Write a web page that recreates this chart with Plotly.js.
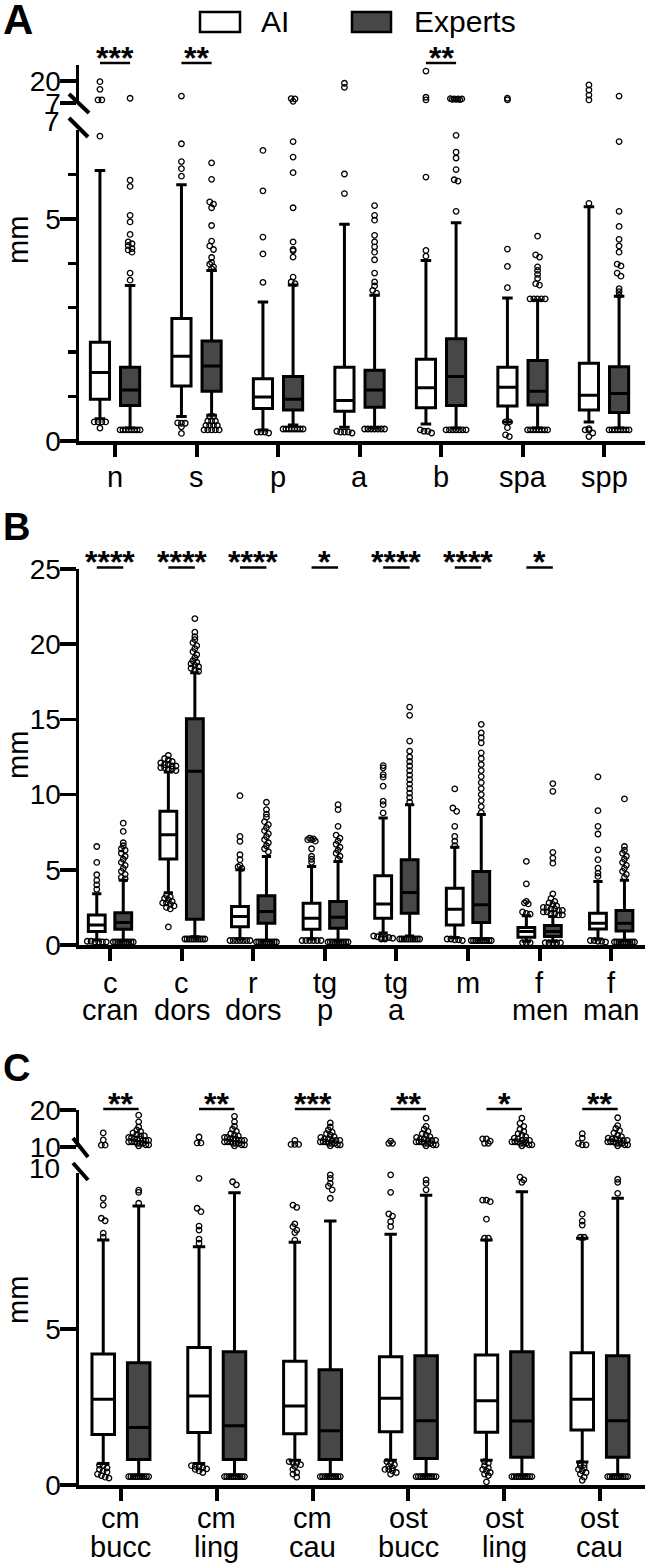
<!DOCTYPE html>
<html><head><meta charset="utf-8">
<script src="https://cdn.plot.ly/plotly-3.0.1.min.js"></script>
<style>html,body{margin:0;padding:0;background:#fff}#chart{width:645px;height:1563px}</style>
</head><body><div id="chart"></div>
<script>
// ================= DATA =================
// box rows: [lowerfence, q1, median, q3, upperfence]
const catsA = ["n","s","p","a","b","spa","spp"];
const boxA_AI = [[0.50,0.94,1.54,2.22,6.09],[0.55,1.24,1.91,2.76,5.77],[0.25,0.73,0.99,1.40,3.13],[0.31,0.67,0.91,1.66,4.88],[0.38,0.75,1.20,1.84,4.06],[0.43,0.79,1.21,1.66,3.22],[0.43,0.70,1.03,1.75,5.27]];
const boxA_EX = [[0.29,0.80,1.15,1.66,3.50],[0.58,1.12,1.69,2.25,3.84],[0.36,0.70,0.94,1.45,3.51],[0.29,0.76,1.15,1.59,3.28],[0.29,0.80,1.45,2.30,4.91],[0.29,0.81,1.12,1.81,3.17],[0.29,0.64,1.07,1.67,3.26]];
const A_AI_out = [
 [6.86,0.43,0.43,0.43,0.43,0.29],
 [6.69,6.29,6.13,5.96,0.41,0.40,0.40,0.32,0.17],
 [6.54,5.63,4.59,4.21,3.57,0.20,0.20,0.20,0.18],
 [6.01,5.57,0.22,0.20,0.20,0.20,0.18],
 [5.94,4.29,4.16,0.25,0.22,0.22,0.18],
 [4.32,3.93,3.45,0.43,0.43,0.30,0.14,0.10],
 [5.35,0.28,0.25,0.25,0.18,0.10]];
const A_AI_up = [[19.6,15.1,8.8,8.8],[11.1],[],[18.7,16.3],[25.9,10.4,8.8],[9.8,8.8],[17.7,14.7,11.7,8.8]];
const A_EX_out = [
 [5.87,5.73,5.08,4.93,4.65,4.48,4.44,4.40,4.33,4.30,4.25,3.78,3.62,0.25,0.25,0.25,0.25,0.25,0.25,0.25,0.25],
 [6.26,5.89,5.38,5.33,5.25,4.85,4.50,4.39,4.31,4.13,4.02,3.98,3.92,3.88,0.55,0.55,0.45,0.45,0.45,0.35,0.35,0.35,0.35,0.25,0.25,0.25,0.25,0.25],
 [6.74,6.39,6.04,5.25,4.48,4.31,4.28,4.14,3.69,3.58,3.54,0.27,0.27,0.27,0.27,0.27,0.27,0.27,0.27],
 [5.30,5.08,4.97,4.63,4.48,4.37,4.25,4.08,3.78,3.58,3.49,3.39,3.33,0.27,0.27,0.27,0.27,0.27,0.27,0.27],
 [6.88,6.50,6.37,6.11,5.88,5.85,5.17,0.25,0.25,0.25,0.25,0.25,0.25,0.25],
 [4.61,4.19,4.14,3.92,3.84,3.75,3.66,3.54,3.51,3.20,3.20,3.20,3.20,3.20,0.25,0.25,0.25,0.25,0.25,0.25,0.25,0.25],
 [6.74,5.17,4.83,4.54,4.39,4.25,3.98,3.94,3.78,3.71,3.43,3.36,3.28,0.25,0.25,0.25,0.25,0.25,0.25,0.25,0.25]];
const A_EX_up = [[9.8],[],[9.6,9.4,8.0],[],[9.6,9.5,9.4,9.4,9.2,9.2,9.0],[],[11.1]];
const sigA = ["***","**","","","**","",""];

const catsB = ["c\ncran","c\ndors","r\ndors","tg\np","tg\na","m","f\nmen","f\nman"];
const boxB_AI = [[0.33,0.89,1.33,2.00,3.40],[3.47,5.71,7.33,8.89,11.50],[0.40,1.22,1.89,2.56,5.00],[0.40,1.04,1.78,2.78,5.22],[0.80,1.78,2.73,4.60,8.44],[0.50,1.33,2.38,3.78,6.50],[0.25,0.51,0.89,1.16,1.95],[0.40,1.07,1.44,2.11,4.22]];
const boxB_EX = [[0.30,1.04,1.49,2.15,4.30],[0.55,1.71,11.55,15.04,18.10],[0.30,1.44,2.22,3.27,5.89],[0.30,1.11,1.84,2.89,5.56],[0.60,2.11,3.49,5.67,9.33],[0.40,1.49,2.67,4.89,8.67],[0.25,0.56,0.89,1.29,1.90],[0.30,0.93,1.44,2.29,4.30]];
const B_AI_out = [
 [6.55,5.49,4.67,4.30,4.00,3.70,0.25,0.25,0.20,0.20,0.20,0.20],
 [12.6,12.4,12.3,12.2,12.1,12.0,12.0,11.9,11.9,11.8,11.8,11.7,11.7,11.6,3.30,3.20,3.10,3.00,2.90,2.80,2.80,2.70,2.60,2.50,2.40,1.20],
 [9.93,7.22,6.89,6.00,5.67,5.30,5.20,5.10,0.30,0.30,0.30,0.30,0.30,0.30,0.30],
 [7.10,7.05,7.00,7.00,6.90,6.40,5.90,5.70,5.50,0.30,0.30,0.30,0.30,0.30,0.30],
 [11.93,11.78,11.33,11.16,10.56,9.56,9.33,8.78,0.60,0.55,0.50,0.50,0.50,0.45,0.40,0.40],
 [10.38,9.11,8.89,7.89,7.22,6.90,6.60,0.40,0.40,0.35,0.35,0.30],
 [5.56,4.07,2.90,2.80,2.73,2.20,2.10,2.05,0.15,0.15,0.15],
 [11.18,8.93,7.89,7.38,6.33,5.67,5.11,4.78,4.56,0.30,0.30,0.25,0.25,0.20]];
const B_EX_out = [
 [8.10,7.55,6.80,6.60,6.40,6.30,6.10,5.90,5.70,5.50,5.30,5.10,4.90,4.70,4.50,4.40,0.20,0.20,0.20,0.20,0.20,0.20,0.20,0.20,0.20,0.20],
 [21.7,20.8,20.5,20.3,20.1,19.9,19.7,19.5,19.3,19.1,18.9,18.8,18.7,18.6,18.5,18.4,18.3,18.2,0.40,0.40,0.40,0.40,0.40,0.40,0.40,0.40,0.40,0.40],
 [9.49,9.00,8.70,8.50,8.20,8.00,7.80,7.60,7.40,7.20,7.00,6.80,6.60,6.40,6.20,0.20,0.20,0.20,0.20,0.20,0.20,0.20,0.20,0.20,0.20],
 [9.33,9.00,7.89,7.30,7.10,6.90,6.70,6.50,6.30,6.10,5.90,5.70,0.20,0.20,0.20,0.20,0.20,0.20,0.20,0.20,0.20,0.20],
 [15.82,15.27,13.56,12.89,12.50,12.20,11.90,11.60,11.30,11.00,10.70,10.40,10.10,9.80,9.50,0.40,0.40,0.40,0.40,0.40,0.40,0.40,0.40,0.40,0.40],
 [14.67,14.10,13.78,13.44,12.78,12.40,12.00,11.60,11.20,10.80,10.40,10.00,9.60,9.20,8.80,0.30,0.30,0.30,0.30,0.30,0.30,0.30,0.30,0.30,0.30],
 [10.73,10.22,6.16,5.78,5.44,3.40,3.10,2.90,2.80,2.70,2.60,2.50,2.50,2.40,2.40,2.30,2.30,2.20,2.20,2.10,2.10,2.00,2.00,0.15,0.15,0.15,0.15,0.15],
 [9.71,6.55,6.30,6.10,5.90,5.70,5.50,5.30,5.10,4.90,4.70,4.50,0.20,0.20,0.20,0.20,0.20,0.20,0.20,0.20,0.20,0.20]];
const sigB = ["****","****","****","*","****","****","*",""];

const catsC = ["cm\nbucc","cm\nling","cm\ncau","ost\nbucc","ost\nling","ost\ncau"];
const boxC_AI = [[0.69,1.62,2.75,4.20,7.85],[0.69,1.68,2.85,4.41,7.64],[0.79,1.64,2.53,3.97,7.78],[0.79,1.71,2.78,4.11,8.04],[0.79,1.69,2.70,4.17,7.85],[0.74,1.76,2.75,4.24,7.91]];
const boxC_EX = [[0.32,0.82,1.84,3.92,8.94],[0.32,0.82,1.90,4.27,9.37],[0.32,0.82,1.74,3.69,8.46],[0.32,0.85,2.06,4.14,9.29],[0.32,0.89,2.05,4.27,9.40],[0.32,0.89,2.06,4.14,9.19]];
const C_AI_out = [
 [9.19,8.97,8.55,8.47,8.07,7.94,0.64,0.62,0.55,0.50,0.45,0.42,0.35,0.30,0.25,0.22],
 [9.83,8.87,8.76,8.30,8.17,7.88,7.75,0.62,0.60,0.58,0.55,0.52,0.50,0.45,0.40],
 [8.97,8.90,8.37,8.28,8.17,8.09,7.85,0.75,0.72,0.70,0.65,0.60,0.50,0.40,0.35,0.25],
 [9.94,9.38,8.69,8.62,8.44,8.28,0.75,0.70,0.65,0.60,0.55,0.50,0.50,0.45,0.40,0.35],
 [9.13,9.13,9.08,8.52,7.91,7.91,0.75,0.70,0.62,0.55,0.50,0.45,0.40,0.35,0.30,0.10],
 [8.68,8.46,8.33,7.94,7.94,0.70,0.65,0.62,0.55,0.50,0.45,0.40,0.35,0.25,0.15]];
const C_AI_up = [[13.8,11.9,10.5,10.5],[12.7,11.1,11.1],[11.8,10.7,10.7,10.7],[11.6,11.0,11.0],[12.2,12.2,11.6,11.0,11.0],[13.6,12.4,11.0,10.6,10.6]];
const C_EX_out = [
 [9.45,9.38,9.03,0.27,0.27,0.27,0.27,0.27,0.27,0.27,0.27,0.27,0.27],
 [9.72,9.62,0.27,0.27,0.27,0.27,0.27,0.27,0.27,0.27,0.27,0.27],
 [9.94,9.83,9.67,9.58,9.46,9.19,0.27,0.27,0.27,0.27,0.27,0.27,0.27,0.27,0.27,0.27],
 [9.78,9.67,9.46,0.27,0.27,0.27,0.27,0.27,0.27,0.27,0.27,0.27,0.27],
 [9.87,9.78,9.70,0.27,0.27,0.27,0.27,0.27,0.27,0.27,0.27,0.27,0.27],
 [9.80,9.70,9.35,0.27,0.27,0.27,0.27,0.27,0.27,0.27,0.27,0.27,0.27]];
const C_EX_up = [
 [18.6,16.8,15.4,14.6,14.2,13.8,13.4,13.0,13.0,12.6,12.6,12.2,12.2,12.2,11.8,11.8,11.8,11.4,11.4,11.4,11.0,11.0,11.0,10.6,10.6,10.3],
 [18.3,16.8,15.6,14.8,14.2,13.6,13.2,13.0,12.6,12.6,12.2,12.2,12.2,11.8,11.8,11.8,11.4,11.4,11.4,11.0,11.0,11.0,10.6,10.6,10.3],
 [16.5,15.4,14.6,14.0,13.6,13.2,12.8,12.6,12.2,12.2,11.8,11.8,11.8,11.4,11.4,11.4,11.0,11.0,11.0,10.6,10.6,10.3],
 [17.8,15.6,14.8,14.2,13.6,13.2,12.8,12.6,12.2,12.2,11.8,11.8,11.8,11.4,11.4,11.4,11.0,11.0,11.0,10.6,10.6,10.3],
 [17.8,16.4,15.6,14.8,14.2,13.6,13.2,12.8,12.4,12.2,11.8,11.8,11.8,11.4,11.4,11.4,11.0,11.0,11.0,10.6,10.6,10.3],
 [17.9,15.8,15.0,14.4,13.8,13.2,12.8,12.4,12.2,12.2,11.8,11.8,11.8,11.4,11.4,11.4,11.0,11.0,11.0,10.6,10.6,10.3]];
const sigC = ["**","**","***","**","*","**"];

const seriesNames = ["AI","Experts"];

// ================= LAYOUT / STYLE =================
const W = 645, H = 1563;
const FONT = "Liberation Sans, Arial, Helvetica, sans-serif";
const AXL = 79;               // y-axis pixel position
const OFF = 0.185, BW = 0.235; // box offset / width (category units)
const EXFILL = "#474747";
const fy = p => 1 - p / H;
const fx = p => p / W;

const panels = [
 {letter:'A', letterY:19, letterSize:42, cats:catsA, ai:boxA_AI, ex:boxA_EX, aiOut:A_AI_out, exOut:A_EX_out, aiUp:A_AI_up, exUp:A_EX_up, sig:sigA,
  xa:'x', ya:'y', yu:'y2', xr:[-0.442,6.503],
  low:{dom:[441,130], range:[0,7], tickvals:[0,5], minor:[1,2,3,4,6]},
  up:{dom:[103,65], range:[7,29.5], tickvals:[7,20]},
  topLabel:{text:'7', y:122}, labelY:[477], sigTextY:58, sigLineY:63, mmY:240,
  slashes:[[69,94,89,113],[69,118,88,137]]},
 {letter:'B', letterY:527, letterSize:38, cats:catsB, ai:boxB_AI, ex:boxB_EX, aiOut:B_AI_out, exOut:B_EX_out, aiUp:null, exUp:null, sig:sigB,
  xa:'x2', ya:'y3', yu:null, xr:[-0.433,7.472],
  low:{dom:[945,569], range:[0,25], tickvals:[0,5,10,15,20,25]},
  up:null, topLabel:null, labelY:[983,1010], sigTextY:562, sigLineY:567.5, mmY:755, slashes:[]},
 {letter:'C', letterY:1068, letterSize:38, cats:catsC, ai:boxC_AI, ex:boxC_EX, aiOut:C_AI_out, exOut:C_EX_out, aiUp:C_AI_up, exUp:C_EX_up, sig:sigC,
  xa:'x3', ya:'y4', yu:'y5', xr:[-0.438,5.47],
  low:{dom:[1485,1173], range:[0,10], tickvals:[0,5]},
  up:{dom:[1147,1110], range:[10,20], tickvals:[10,20]},
  topLabel:{text:'10', y:1168}, labelY:[1518,1547], sigTextY:1104, sigLineY:1109, mmY:1300,
  slashes:[[73,1138,88,1157],[73,1163,88,1180]]}
];

function axName(id){ return id.replace('x','xaxis').replace('y','yaxis'); }

function yAxis(def, anchor, minor){
 const o = {domain:[fy(def.dom[0]), fy(def.dom[1])], range:def.range, anchor:anchor,
  showline:true, linecolor:'black', linewidth:3.5, ticks:'outside', ticklen:16, tickwidth:3.5, tickcolor:'black',
  tickmode:'array', tickvals:def.tickvals, ticktext:def.tickvals.map(String), ticklabelstandoff:-7,
  tickfont:{family:FONT, size:28, color:'black'}, showgrid:false, zeroline:false, fixedrange:true};
 if (minor) o.minor = {tickmode:'array', tickvals:minor, ticks:'outside', ticklen:8, tickwidth:3.5, tickcolor:'black', showgrid:false};
 return o;
}

// spread outliers sideways (swarm-like) in pixel space
const BIN = 4.5, DX = 3.8, MAXW = 20;
function swarm(vals, center, pxX, pxY){
 const bins = {};
 vals.forEach((v,i)=>{ const b = Math.round(v*pxY/BIN); (bins[b] = bins[b] || []).push(i); });
 const xs = new Array(vals.length);
 Object.keys(bins).forEach(k=>{
  const idx = bins[k], n = idx.length;
  const sp = n > 1 ? Math.min(DX, MAXW/(n-1)) : 0;
  idx.forEach((i,j)=>{ xs[i] = center + (j-(n-1)/2)*sp/pxX; });
 });
 return xs;
}

const data = [], shapes = [], annotations = [];
const layout = {width:W, height:H, margin:{l:0,r:0,t:0,b:0}, paper_bgcolor:'white', plot_bgcolor:'rgba(0,0,0,0)',
 showlegend:false, boxmode:'overlay', font:{family:FONT, color:'black'}};

const marker = {symbol:'circle-open', size:5.5, color:'black', line:{color:'black', width:1.3}};

panels.forEach(P=>{
 const idx = P.cats.map((_,i)=>i);
 layout[axName(P.xa)] = {domain:[fx(AXL),1], range:P.xr, anchor:P.ya, showline:true, linecolor:'black', linewidth:3.5,
  ticks:'outside', ticklen:12, tickwidth:4, tickcolor:'black', tickmode:'array', tickvals:idx, showticklabels:false,
  showgrid:false, zeroline:false, fixedrange:true};
 layout[axName(P.ya)] = yAxis(P.low, P.xa, P.low.minor);
 if (P.yu) layout[axName(P.yu)] = yAxis(P.up, P.xa, null);

 const pxX = (W - AXL)/(P.xr[1]-P.xr[0]);
 const pxYl = (P.low.dom[0]-P.low.dom[1])/(P.low.range[1]-P.low.range[0]);
 const pxYu = P.up ? (P.up.dom[0]-P.up.dom[1])/(P.up.range[1]-P.up.range[0]) : 1;

 [[P.ai,'white',-OFF,P.aiOut,P.aiUp,seriesNames[0]],[P.ex,EXFILL,OFF,P.exOut,P.exUp,seriesNames[1]]].forEach(([st,fill,off,outs,ups,nm])=>{
  data.push({type:'box', name:nm, orientation:'v', xaxis:P.xa, yaxis:P.ya,
   x: idx.map(i=>i+off),
   lowerfence: st.map(r=>r[0]), q1: st.map(r=>r[1]), median: st.map(r=>r[2]), q3: st.map(r=>r[3]), upperfence: st.map(r=>r[4]),
   width: BW, whiskerwidth: 0.55, fillcolor: fill, line:{color:'black', width:3}, boxpoints:false, hoverinfo:'skip'});
  const ox = [], oy = [];
  outs.forEach((vals,i)=>{ const xs = swarm(vals, i+off, pxX, pxYl); vals.forEach((v,j)=>{ ox.push(xs[j]); oy.push(v); }); });
  data.push({type:'scatter', mode:'markers', name:nm+' outliers', xaxis:P.xa, yaxis:P.ya, x:ox, y:oy, marker:marker, hoverinfo:'skip', cliponaxis:false});
  if (ups){
   const ux = [], uy = [];
   ups.forEach((vals,i)=>{ const xs = swarm(vals, i+off, pxX, pxYu); vals.forEach((v,j)=>{ ux.push(xs[j]); uy.push(v); }); });
   data.push({type:'scatter', mode:'markers', name:nm+' outliers (upper)', xaxis:P.xa, yaxis:P.yu, x:ux, y:uy, marker:marker, hoverinfo:'skip', cliponaxis:false});
  }
 });

 // category labels
 P.cats.forEach((c,i)=>{
  c.split('\n').forEach((line,k)=>{
   if (!line) return;
   annotations.push({xref:P.xa, yref:'paper', x:i, y:fy(P.labelY[k]), text:line, showarrow:false,
    xanchor:'center', yanchor:'middle', font:{family:FONT, size:29, color:'black'}});
  });
 });
 // significance
 P.sig.forEach((s,i)=>{
  if (!s) return;
  shapes.push({type:'line', xref:P.xa, yref:'paper', x0:i-OFF, x1:i+OFF, y0:fy(P.sigLineY), y1:fy(P.sigLineY), line:{color:'black', width:2.5}});
  annotations.push({xref:P.xa, yref:'paper', x:i, y:fy(P.sigTextY), text:'<b>'+s+'</b>', showarrow:false,
   xanchor:'center', yanchor:'middle', font:{family:FONT, size:32, color:'black'}});
 });
 // panel letter
 annotations.push({xref:'paper', yref:'paper', x:fx(1), y:fy(P.letterY), text:'<b>'+P.letter+'</b>', showarrow:false,
  xanchor:'left', yanchor:'middle', font:{family:FONT, size:P.letterSize, color:'black'}});
 // y title
 annotations.push({xref:'paper', yref:'paper', x:fx(18), y:fy(P.mmY), text:'mm', textangle:-90, showarrow:false,
  xanchor:'center', yanchor:'middle', font:{family:FONT, size:29, color:'black'}});
 // top label of the lower segment of a broken axis
 if (P.topLabel) annotations.push({xref:'paper', yref:'paper', x:fx(62), y:fy(P.topLabel.y), text:P.topLabel.text, showarrow:false,
  xanchor:'right', yanchor:'middle', font:{family:FONT, size:28, color:'black'}});
 // axis-break slashes
 P.slashes.forEach(s=>shapes.push({type:'line', xref:'paper', yref:'paper', x0:fx(s[0]), y0:fy(s[1]), x1:fx(s[2]), y1:fy(s[3]), line:{color:'black', width:4}}));
});

// legend (drawn)
shapes.push({type:'rect', xref:'paper', yref:'paper', x0:fx(200), x1:fx(240), y0:fy(32), y1:fy(12), line:{color:'black', width:2.5}, fillcolor:'white'});
shapes.push({type:'rect', xref:'paper', yref:'paper', x0:fx(352), x1:fx(391), y0:fy(32), y1:fy(12), line:{color:'black', width:2.5}, fillcolor:EXFILL});
annotations.push({xref:'paper', yref:'paper', x:fx(259), y:fy(22), text:seriesNames[0], showarrow:false, xanchor:'left', yanchor:'middle', font:{family:FONT, size:30, color:'black'}});
annotations.push({xref:'paper', yref:'paper', x:fx(412), y:fy(22), text:seriesNames[1], showarrow:false, xanchor:'left', yanchor:'middle', font:{family:FONT, size:30, color:'black'}});

layout.shapes = shapes;
layout.annotations = annotations;
Plotly.newPlot('chart', data, layout, {staticPlot:true, displayModeBar:false});
</script></body></html>
